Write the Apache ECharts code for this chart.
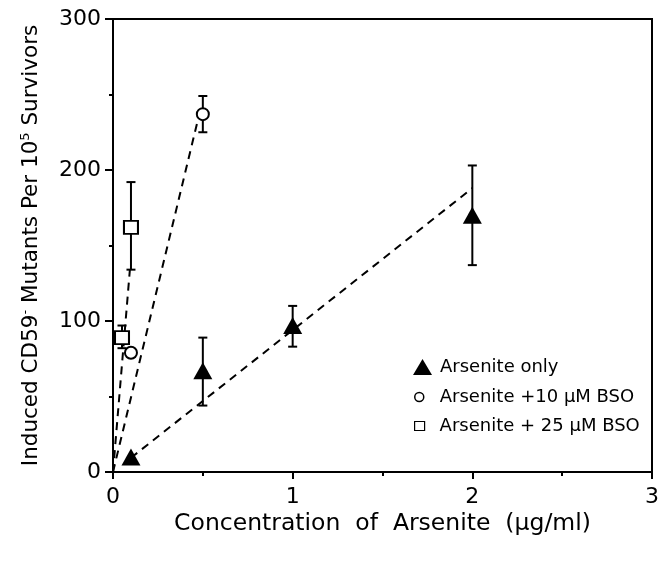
<!DOCTYPE html>
<html>
<head>
<meta charset="utf-8">
<script src="https://cdn.jsdelivr.net/npm/echarts@6/dist/echarts.min.js"></script>
<style>html,body{margin:0;padding:0;background:#fff;}#c{width:662px;height:562px;}</style>
</head>
<body>
<div id="c"></div>
<script>
// Arsenite only (filled triangles)
const triX  = [0.1, 0.5, 1, 2];
const triY  = [10, 67, 97, 170];
const triLo = [null, 44, 83, 137];
const triHi = [null, 89, 110, 203];
// Arsenite + 10 uM BSO (open circles)
const cirX  = [0.1, 0.5];
const cirY  = [79, 237];
const cirLo = [null, 225];
const cirHi = [null, 249];
// Arsenite + 25 uM BSO (open squares)
const sqX  = [0.05, 0.1];
const sqY  = [89, 162];
const sqLo = [82, 134];
const sqHi = [97, 192];
// dashed fit lines (endpoints)
const triFit = [[0.1, 9.4], [2, 188]];
const cirFit = [[0, 0], [0.47, 232]];
const sqFit  = [[0, 0], [0.094, 134]];
// axis ticks
const xTicks = {min: 0, max: 3, interval: 1};
const yTicks = {min: 0, max: 300, interval: 100};

const FONT = 'DejaVu Sans';
const names = ['Arsenite only', 'Arsenite +10 \u00b5M BSO', 'Arsenite + 25 \u00b5M BSO'];

function pts(xs, ys) { return xs.map((x, i) => [x, ys[i]]); }
function bars(xs, lo, hi) {
  const out = [];
  xs.forEach((x, i) => { if (lo[i] != null) out.push([x, lo[i], hi[i]]); });
  return out;
}
const errData = [].concat(bars(triX, triLo, triHi), bars(cirX, cirLo, cirHi), bars(sqX, sqLo, sqHi));

function renderErr(params, api) {
  const x = api.value(0), lo = api.value(1), hi = api.value(2);
  const a = api.coord([x, lo]), b = api.coord([x, hi]);
  const w = 4.5;
  const st = {stroke: '#000', lineWidth: 2};
  return {type: 'group', children: [
    {type: 'line', shape: {x1: b[0], y1: b[1], x2: a[0], y2: a[1]}, style: st},
    {type: 'line', shape: {x1: b[0] - w, y1: b[1], x2: b[0] + w, y2: b[1]}, style: st},
    {type: 'line', shape: {x1: a[0] - w, y1: a[1], x2: a[0] + w, y2: a[1]}, style: st}
  ]};
}

const fitStyle = {color: '#000', width: 2, type: [8, 6]};
const legendText = {fontFamily: FONT, fontSize: 18, color: '#000'};

const chart = echarts.init(document.getElementById('c'), null, {renderer: 'canvas'});
chart.setOption({
  backgroundColor: '#fff',
  animation: false,
  grid: {left: 113, right: 8, top: 19, bottom: 90, show: true, borderColor: '#000', borderWidth: 2, backgroundColor: 'transparent'},
  legend: [
    {left: 413, top: 358, padding: 0, itemWidth: 19, itemHeight: 16, selectedMode: false,
     textStyle: Object.assign({padding: [0, 0, 0, 3]}, legendText),
     data: [{name: names[0], icon: 'triangle', itemStyle: {color: '#000', borderWidth: 0}}]},
    {left: 414, top: 388, padding: 0, itemWidth: 9, itemHeight: 9, selectedMode: false,
     textStyle: Object.assign({padding: [0, 0, 0, 11]}, legendText),
     data: [{name: names[1], icon: 'circle', itemStyle: {color: '#fff', borderColor: '#000', borderWidth: 1.5}}]},
    {left: 414, top: 417, padding: 0, itemWidth: 10, itemHeight: 9, selectedMode: false,
     textStyle: Object.assign({padding: [0, 0, 0, 10]}, legendText),
     data: [{name: names[2], icon: 'rect', itemStyle: {color: '#fff', borderColor: '#000', borderWidth: 1.2}}]}
  ],
  xAxis: {
    type: 'value', min: xTicks.min, max: xTicks.max, interval: xTicks.interval,
    name: 'Concentration  of  Arsenite  (\u00b5g/ml)', nameLocation: 'middle', nameGap: 40,
    nameMoveOverlap: false,
    nameTextStyle: {fontFamily: FONT, fontSize: 23.5, color: '#000'},
    axisLine: {show: true, lineStyle: {color: '#000', width: 2}},
    axisTick: {show: true, inside: false, length: 7, lineStyle: {color: '#000', width: 2}},
    minorTick: {show: true, splitNumber: 2, length: 4, lineStyle: {color: '#000', width: 2}},
    axisLabel: {margin: 14, fontFamily: FONT, fontSize: 22, color: '#000'},
    splitLine: {show: false}
  },
  yAxis: {
    type: 'value', min: yTicks.min, max: yTicks.max, interval: yTicks.interval,
    name: '{n|Induced CD59}{s|-}{n| Mutants Per 10}{s|5}{n| Survivors}',
    nameLocation: 'middle', nameGap: 70,
    nameTextStyle: {color: '#000', rich: {
      n: {fontFamily: FONT, fontSize: 21.5, color: '#000', lineHeight: 24},
      s: {fontFamily: FONT, fontSize: 13, color: '#000', verticalAlign: 'top', lineHeight: 24}
    }},
    axisLine: {show: true, lineStyle: {color: '#000', width: 2}},
    axisTick: {show: true, inside: false, length: 8, lineStyle: {color: '#000', width: 2}},
    minorTick: {show: true, splitNumber: 2, length: 4, lineStyle: {color: '#000', width: 2}},
    axisLabel: {margin: 12, fontFamily: FONT, fontSize: 22, color: '#000'},
    splitLine: {show: false}
  },
  series: [
    {type: 'line', data: triFit, showSymbol: false, lineStyle: fitStyle, z: 1, silent: true},
    {type: 'line', data: cirFit, showSymbol: false, lineStyle: fitStyle, z: 1, silent: true},
    {type: 'line', data: sqFit, showSymbol: false, lineStyle: fitStyle, z: 1, silent: true},
    {type: 'custom', data: errData, renderItem: renderErr, z: 2, silent: true},
    {name: names[0], type: 'scatter', data: pts(triX, triY), symbol: 'triangle', symbolSize: [19, 17],
     itemStyle: {color: '#000', opacity: 1}, z: 3},
    {name: names[1], type: 'scatter', data: pts(cirX, cirY), symbol: 'circle', symbolSize: 12,
     itemStyle: {color: '#fff', borderColor: '#000', borderWidth: 2, opacity: 1}, z: 3},
    {name: names[2], type: 'scatter', data: pts(sqX, sqY), symbol: 'rect', symbolSize: [14, 13],
     itemStyle: {color: '#fff', borderColor: '#000', borderWidth: 2, opacity: 1}, z: 3}
  ]
});
</script>
</body>
</html>
